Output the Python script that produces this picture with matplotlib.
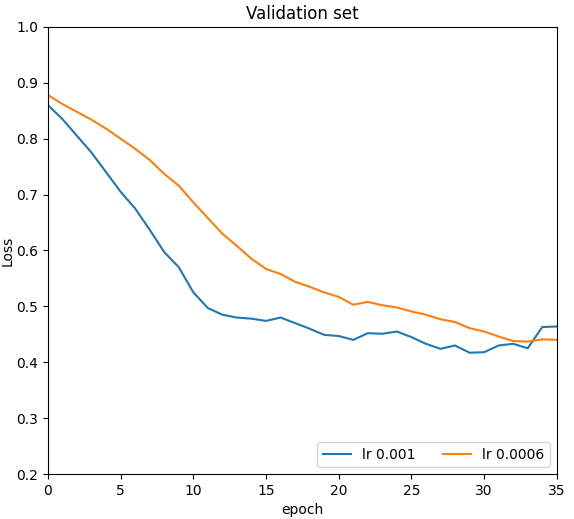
import matplotlib
matplotlib.use("Agg")
from matplotlib import pyplot as plt
import numpy as np

epochs = list(range(36))

# validation loss, lr 0.001
loss_lr_001 = [0.860, 0.835, 0.805, 0.775, 0.740, 0.705, 0.675, 0.637, 0.597, 0.570,
               0.525, 0.497, 0.485, 0.480, 0.478, 0.474, 0.480, 0.470, 0.460, 0.449,
               0.447, 0.440, 0.452, 0.451, 0.455, 0.445, 0.433, 0.424, 0.430, 0.417,
               0.418, 0.430, 0.433, 0.425, 0.463, 0.464]

# validation loss, lr 0.0006
loss_lr_0006 = [0.878, 0.862, 0.848, 0.834, 0.818, 0.800, 0.782, 0.762, 0.737, 0.716,
                0.686, 0.658, 0.630, 0.608, 0.585, 0.567, 0.558, 0.544, 0.535, 0.525,
                0.517, 0.503, 0.508, 0.502, 0.498, 0.491, 0.485, 0.477, 0.472, 0.461,
                0.455, 0.446, 0.438, 0.437, 0.441, 0.440]


fig = plt.figure(figsize=(5.74, 5.19), dpi=100)
ax = fig.add_axes([0.0836, 0.0867, 0.8864, 0.8613])

ax.plot(epochs, loss_lr_001, label='lr 0.001')
ax.plot(epochs, loss_lr_0006, label='lr 0.0006')

ax.set_xlim(0, 35)
ax.set_ylim(0.2, 1.0)
ax.set_title('Validation set')
ax.set_xlabel('epoch')
ax.set_ylabel('Loss', labelpad=1)
ax.legend(loc='lower right', ncol=2)

fig.savefig('out.png', dpi=100)
